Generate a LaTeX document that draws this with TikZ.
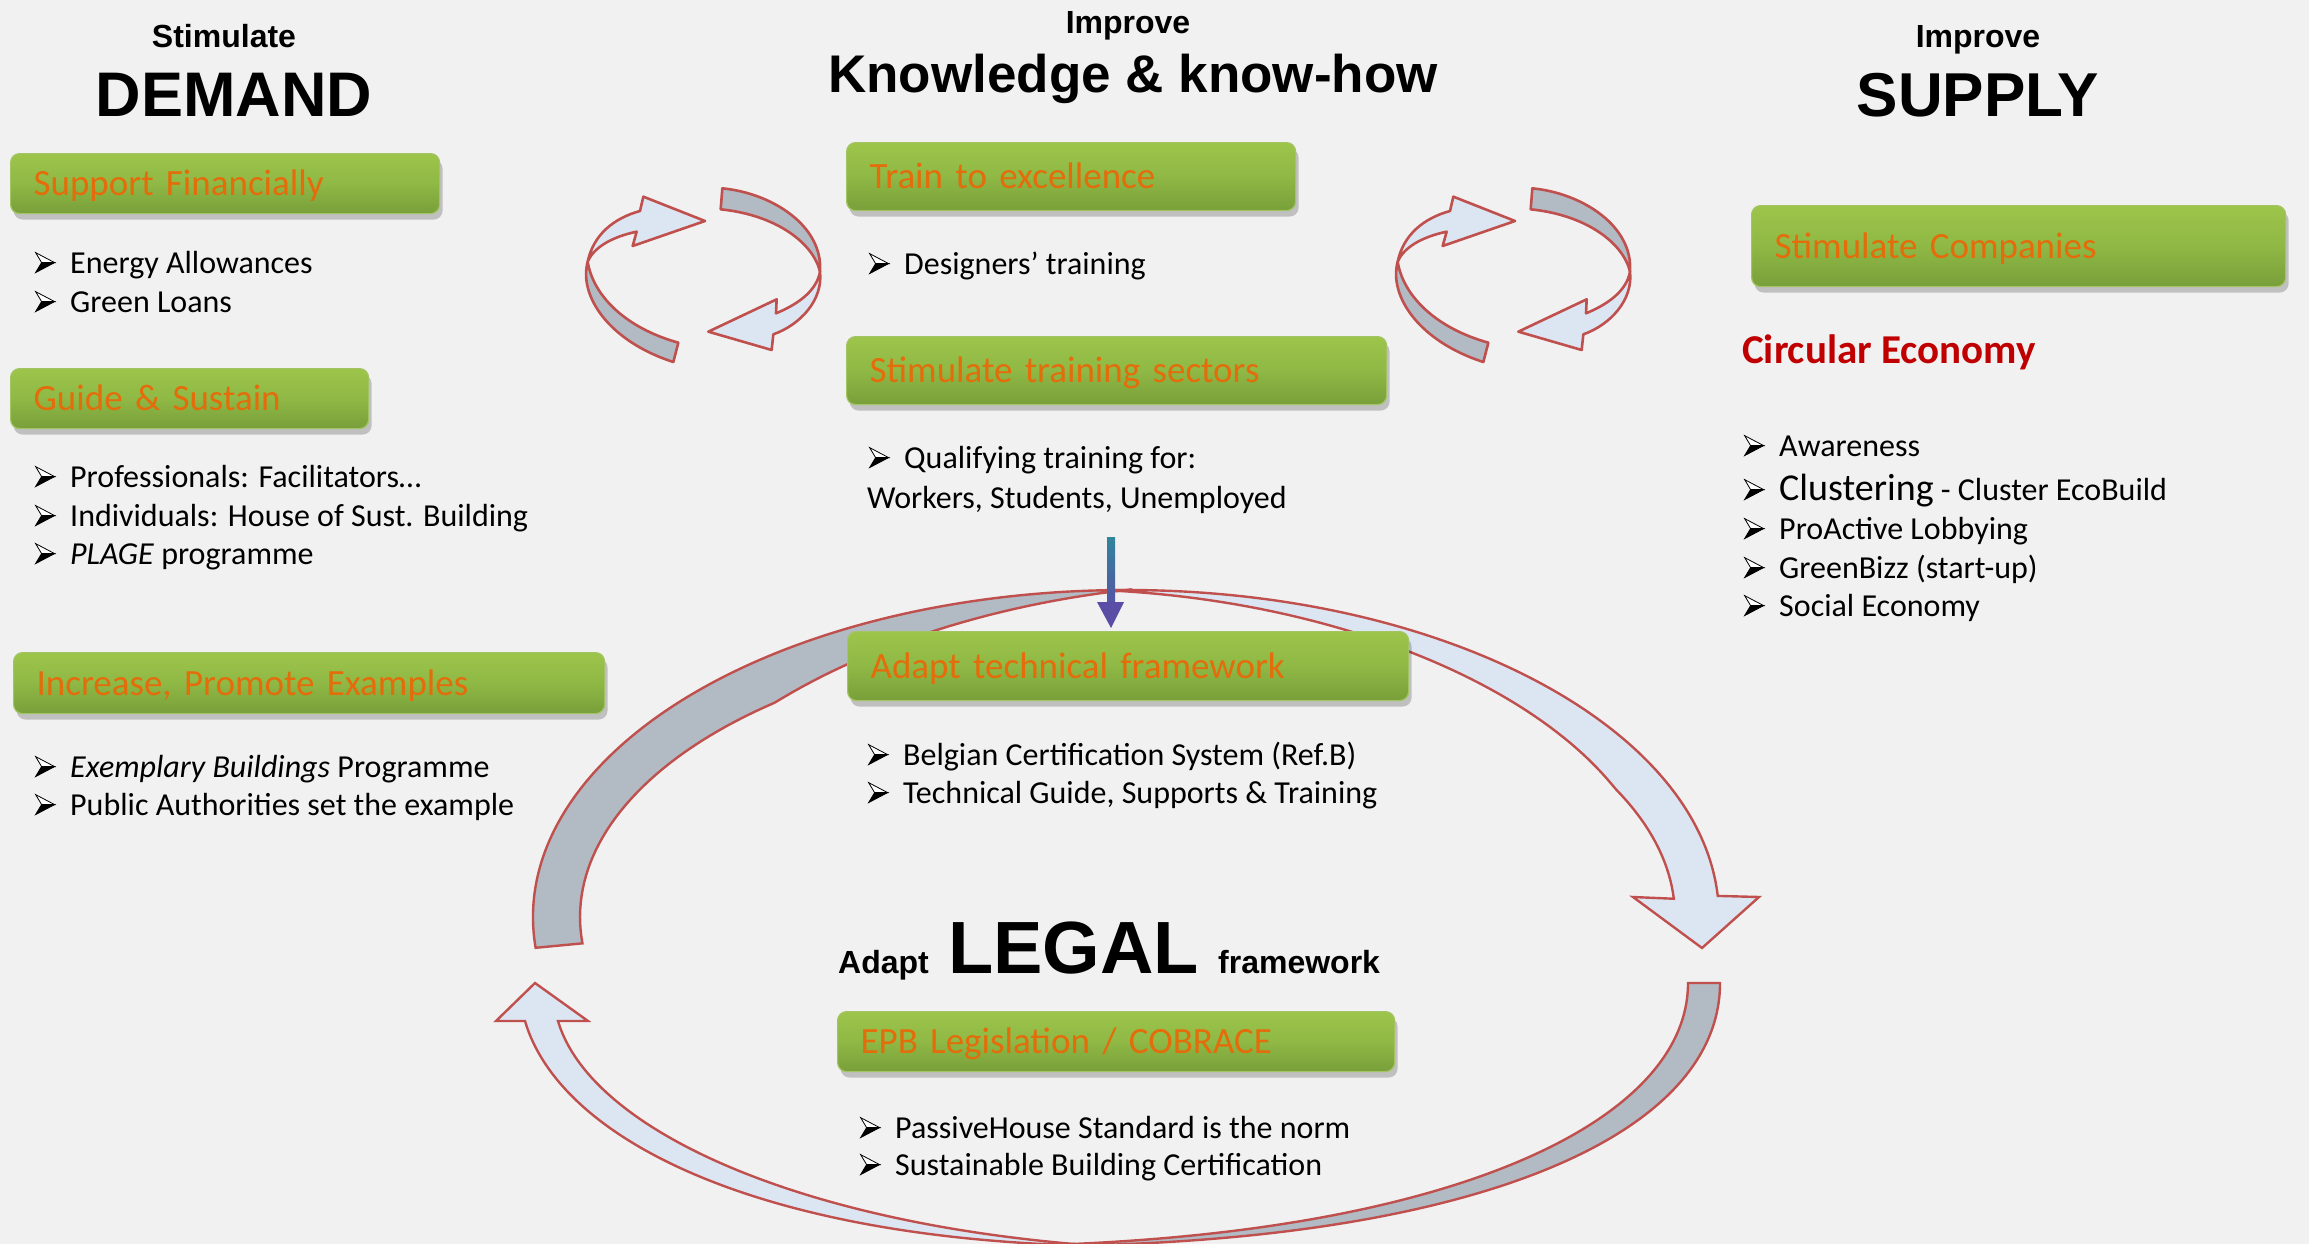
\documentclass[tikz,border=0pt]{standalone}
\usepackage{fontspec}
\setmainfont{Carlito}
\newfontfamily\hfont{Liberation Sans}
\usetikzlibrary{shadows,calc}
\definecolor{bg}{HTML}{F1F1F1}
\definecolor{gtop}{HTML}{9DC54B}
\definecolor{gmid}{HTML}{8FB845}
\definecolor{gbot}{HTML}{789F3A}
\definecolor{gborder}{HTML}{A3C462}
\definecolor{otxt}{HTML}{E46C0A}
\definecolor{ribred}{HTML}{C0504D}
\definecolor{ribgray}{HTML}{B2BAC4}
\definecolor{ribblue}{HTML}{DCE6F2}
\definecolor{ceco}{HTML}{C00000}
\definecolor{darrtop}{HTML}{31859C}
\definecolor{darrhead}{HTML}{5A4DA6}
\newsavebox\bltbox
\sbox\bltbox{\tikz[x=1pt,y=1pt,line join=miter]{%
  \filldraw[fill=black, draw=black, line width=0.8pt] (6,10)--(19,10)--(0,0)--cycle;
  \filldraw[fill=white, draw=black, line width=0.8pt] (0,20)--(19,10)--(6,10)--cycle;}}
\newcommand{\bodyfs}{\fontsize{32pt}{39pt}\selectfont}
\newcommand{\blt}{\makebox[35pt][l]{\usebox\bltbox}}
\newcommand{\cyclepair}[1]{%
\begin{scope}[shift={#1}, scale=0.33333]
\draw[cyc, fill=ribgray] (83,335) .. controls (55,440) and (150,575) .. (340,636) -- (355,578) .. controls (200,535) and (100,440) .. (83,335) -- cycle;
\draw[cyc, fill=ribblue] (435,213) -- (250,140) -- (240,183) .. controls (160,205) and (100,255) .. (83,335) .. controls (100,295) and (150,262) .. (230,245) -- (218,288) -- cycle;
\draw[cyc, fill=ribgray] (487,115) .. controls (640,130) and (790,230) .. (780,365) .. controls (760,280) and (650,195) .. (482,178) -- cycle;
\draw[cyc, fill=ribblue] (445,545) -- (650,448) -- (648,490) .. controls (720,460) and (770,420) .. (780,365) .. controls (790,450) and (720,525) .. (640,553) -- (635,600) -- cycle;
\end{scope}}
\begin{document}
\begin{tikzpicture}[x=1pt,y=-1pt,
  cyc/.style={draw=ribred, line width=2.6pt, line join=round},
  ring/.style={draw=ribred, line width=2.4pt, line join=miter},
  gbox/.style={rounded corners=9pt, draw=gborder, line width=1.2pt,
    top color=gtop, bottom color=gbot, middle color=gmid,
    drop shadow={shadow xshift=3pt, shadow yshift=-6pt, opacity=0.2, fill=black},
    inner xsep=23pt, inner ysep=0pt, align=left, text=otxt,
    font=\fontsize{37pt}{44pt}\selectfont, text height=27pt, text depth=3pt, anchor=north west},
  txt/.style={anchor=base west, inner sep=0pt, font=\bodyfs},
  hd/.style={anchor=base, inner sep=0pt}]
\useasboundingbox (0,0) rectangle (2309,1244);
\fill[bg] (0,0) rectangle (2309,1244);

% ---- big ring around LEGAL ----
\draw[ring, fill=ribgray] (535.6,947.8) arc[start angle=174.6, end angle=270, x radius=593, y radius=327]
  -- plot[domain=270:174.6, samples=70] ({1126+(593-min(47,47*(270-\x)/40))*cos(\x)}, {917+(327-min(47,47*(270-\x)/40))*sin(\x)}) -- cycle;
\draw[ring, fill=ribblue] (1105.3,590.2) arc[start angle=268, end angle=356.3, x radius=593, y radius=327]
  -- (1759,897) -- (1702,948) -- (1633,897)
  -- plot[domain=356.3:268, samples=70] ({1126+(593-44*min(1,(\x-268)/65))*cos(\x)}, {917+(327-44*min(1,(\x-268)/65))*sin(\x)}) -- cycle;
\draw[ring, fill=ribgray] (1720,983) .. controls (1720,1140) and (1460,1250) .. (1000,1246)
  .. controls (1440,1240) and (1688,1125) .. (1688,983) -- cycle;
\draw[ring, fill=ribblue] (1100,1246) .. controls (760,1240) and (560,1140) .. (525,1021)
  -- (496,1021) -- (535,983) -- (588,1021) -- (558,1021)
  .. controls (590,1130) and (800,1225) .. (1100,1246) -- cycle;

% ---- small cycle arrows ----
\cyclepair{(560,150)}
\cyclepair{(1370,150)}

% ---- headings ----
\node[hd, font=\hfont\bfseries\fontsize{32pt}{38pt}\selectfont] (stim) at (224,48) {Stimulate};
\node[hd, font=\hfont\bfseries\fontsize{63pt}{70pt}\selectfont] (demand) at (234,117) {DEMAND};
\node[hd, font=\hfont\bfseries\fontsize{32pt}{38pt}\selectfont] (impk) at (1128,34) {Improve};
\node[hd, font=\hfont\bfseries\fontsize{53pt}{60pt}\selectfont] (know) at (1133,93) {Knowledge \& know-how};
\node[hd, font=\hfont\bfseries\fontsize{32pt}{38pt}\selectfont] (imps) at (1978,48) {Improve};
\node[hd, font=\hfont\bfseries\fontsize{62pt}{70pt}\selectfont] (supply) at (1978,117) {SUPPLY};

% ---- green boxes ----
\node[gbox, minimum width=429pt, minimum height=60pt, text width=383pt] (sf) at (10,153) {Support Financially};
\node[gbox, minimum width=358pt, minimum height=60pt, text width=312pt] (gs) at (10,368) {Guide \& Sustain};
\node[gbox, minimum width=591pt, minimum height=61pt, text width=545pt] (ip) at (13,652) {Increase, Promote Examples};
\node[gbox, minimum width=449pt, minimum height=68pt, text width=403pt] (te) at (846,142) {Train to excellence};
\node[gbox, minimum width=540pt, minimum height=68pt, text width=494pt] (sts) at (846,336) {Stimulate training sectors};
\node[gbox, minimum width=534pt, minimum height=81pt, text width=488pt] (sc) at (1751,205) {Stimulate Companies};
\node[gbox, minimum width=561pt, minimum height=69pt, text width=515pt] (atf) at (847,631) {Adapt technical framework};
\node[gbox, minimum width=557pt, minimum height=60pt, text width=511pt] (epb) at (837,1011) {EPB Legislation / COBRACE};

% ---- left column ----
\node[txt] (l1) at (35,273) {\blt Energy Allowances};
\node[txt] (l2) at (35,312) {\blt Green Loans};
\node[txt] (l3) at (35,487) {\blt Professionals: Facilitators…};
\node[txt] (l4) at (35,526) {\blt Individuals: House of Sust. Building};
\node[txt] (l5) at (35,564) {\blt \textit{PLAGE} programme};
\node[txt] (l6) at (35,777) {\blt \textit{Exemplary Buildings} Programme};
\node[txt] (l7) at (35,815) {\blt Public Authorities set the example};

% ---- middle column ----
\node[txt] (m1) at (869,274) {\blt Designers’ training};
\node[txt] (m2) at (869,468) {\blt Qualifying training for:};
\node[txt] (m3) at (867,508) {Workers, Students, Unemployed};
\node[txt] (m4) at (868,765) {\blt Belgian Certification System (Ref.B)};
\node[txt] (m5) at (868,803) {\blt Technical Guide, Supports \& Training};
\node[txt] (m6) at (860,1138) {\blt PassiveHouse Standard is the norm};
\node[txt] (m7) at (860,1175) {\blt Sustainable Building Certification};

\node[anchor=base west, inner sep=0pt, font=\hfont\bfseries\fontsize{32pt}{38pt}\selectfont] (adapt) at (838,973) {Adapt};
\node[anchor=base west, inner sep=0pt, font=\hfont\bfseries\fontsize{74pt}{80pt}\selectfont] (legal) at (948,973) {LEGAL};
\node[anchor=base west, inner sep=0pt, font=\hfont\bfseries\fontsize{32pt}{38pt}\selectfont] (frame) at (1218,973) {framework};

% ---- right column ----
\node[anchor=base west, inner sep=0pt, text=ceco, font=\bfseries\fontsize{41pt}{48pt}\selectfont] (ce) at (1742,363) {Circular Economy};
\node[txt] (r1) at (1744,456) {\blt Awareness};
\node[txt] (r2) at (1744,500) {\blt {\fontsize{38pt}{44pt}\selectfont Clustering} - Cluster EcoBuild};
\node[txt] (r3) at (1744,539) {\blt ProActive Lobbying};
\node[txt] (r4) at (1744,578) {\blt GreenBizz (start-up)};
\node[txt] (r5) at (1744,616) {\blt Social Economy};

% ---- down arrow ----
\coordinate (dtop) at (1111,537);
\coordinate (dbase) at (1111,602);
\coordinate (dtip) at ($(atf.north west -| dtop)+(0,-3)$);
\shade[top color=darrtop, bottom color=darrhead!85!darrtop] ($(dtop)+(-4,0)$) rectangle ($(dbase)+(4,0)$);
\fill[darrhead] ($(dbase)+(-14,0)$) -- ($(dbase)+(13,0)$) -- (dtip) -- cycle;
\end{tikzpicture}
\end{document}
